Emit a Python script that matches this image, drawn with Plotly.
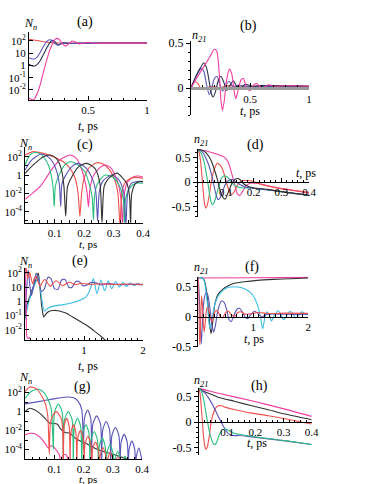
import plotly.graph_objects as go

W, H = 374, 484

PINK = '#f03ca0'
RED = '#f0504b'
BLUE = '#5a55b9'
NAVY = '#283250'
BLACK = '#323232'
GREEN = '#28be7d'
CYAN = '#3cbee6'

# ---- (a) N_n, t = 0..1 ps
a_t_red = [0, 0.037, 0.093, 0.178, 0.32, 0.6, 1.0]
a_red = [135, 120, 100, 74, 66, 66, 66]
a_t_navy = [0, 0.023, 0.045, 0.065, 0.093, 0.122, 0.15, 0.178, 0.2, 0.221, 0.241, 0.263, 0.292, 0.334, 0.405, 0.603, 1]
a_navy = [1.27, 0.93, 0.89, 1.12, 2.3, 7.8, 26, 78, 112, 83, 48, 55, 69, 62, 66, 66, 66]
a_t_blue = [0, 0.023, 0.045, 0.065, 0.093, 0.122, 0.15, 0.173, 0.193, 0.221, 0.249, 0.278, 0.32, 0.377, 0.462, 0.603, 1]
a_blue = [4.3, 3.5, 3.4, 4.3, 10.7, 35, 89, 126, 112, 58, 46, 62, 69, 62, 66, 66, 66]
a_t_pink = [0, 0.023, 0.045, 0.065, 0.088, 0.11, 0.133, 0.156, 0.178, 0.201, 0.221, 0.241, 0.263, 0.286,
            0.309, 0.337, 0.365, 0.394, 0.428, 0.462, 0.504, 0.547, 0.603, 1]
a_pink = [0.0022, 0.0016, 0.0018, 0.0041, 0.016, 0.1, 0.69, 4.3, 19.5, 66, 135, 162, 112, 55,
          38, 58, 100, 83, 58, 69, 78, 66, 66, 66]

# ---- (b) n21, t = 0..1 ps
b_t_red = [0, 0.017, 0.034, 0.056, 0.079, 0.105, 0.133, 0.175, 0.232, 0.316, 0.429, 0.6, 1.0]
b_red = [0, 0.05, 0.07, 0.055, 0.004, -0.02, 0.0, 0.02, 0.004, 0.026, 0.011, 0.026, 0.02]
b_t_blue = [0, 0.034, 0.068, 0.09, 0.11, 0.133, 0.155, 0.175, 0.198, 0.22, 0.246, 0.268, 0.294, 0.322,
            0.359, 0.401, 0.458, 1.0]
b_blue = [0, 0.105, 0.19, 0.218, 0.18, 0.03, -0.075, -0.008, 0.105, 0.13, 0.03, -0.034, 0.03, 0.075,
          0.01, 0.03, 0.02, 0.02]
b_t_navy = [0, 0.04, 0.076, 0.11, 0.133, 0.161, 0.175, 0.189, 0.209, 0.231, 0.254, 0.282, 0.302, 0.331,
            0.359, 0.387, 0.42, 0.46, 0.52, 0.6, 1.0]
b_navy = [0, 0.124, 0.218, 0.28, 0.218, 0.02, -0.075, -0.1, -0.034, 0.08, 0.13, 0.05, -0.026, 0.03,
          0.08, 0.02, 0.004, 0.04, 0.02, 0.026, 0.02]
b_t_pink = [0, 0.062, 0.119, 0.161, 0.198, 0.218, 0.237, 0.254, 0.266, 0.282, 0.302, 0.325, 0.345, 0.367,
            0.379, 0.395, 0.424, 0.444, 0.472, 0.5, 0.528, 0.556, 0.6, 0.655, 0.71, 0.8, 1.0]
b_pink = [0, 0.14, 0.26, 0.35, 0.43, 0.41, 0.2, -0.14, -0.25, -0.14, 0.09, 0.21, 0.16, -0.05,
          -0.12, -0.05, 0.09, 0.105, 0.0, -0.03, 0.03, 0.05, 0.0, 0.035, 0.02, 0.025, 0.02]

# ---- (c) N_n, t = 0..0.4 ps
c_t_red = [0, 0.028, 0.062, 0.096, 0.13, 0.153, 0.17, 0.18, 0.186, 0.192, 0.2, 0.215, 0.243, 0.27,
           0.29, 0.305, 0.315, 0.322, 0.328, 0.338, 0.355, 0.375, 0.4]
c_red = [151, 355, 229, 100, 28, 5.4, 0.44, 0.01, 3.2e-5, 0.01, 0.4, 5.0, 22, 12.6,
         2.5, 0.25, 0.01, 3.2e-6, 0.01, 0.126, 0.4, 0.56, 0.45]
c_t_pink = [0, 0.025, 0.05, 0.07, 0.095, 0.12, 0.153, 0.175, 0.19, 0.202, 0.21, 0.215, 0.22, 0.23,
            0.25, 0.271, 0.29, 0.305, 0.318, 0.326, 0.33, 0.335, 0.345, 0.367, 0.385, 0.4]
c_pink = [2.2e-3, 0.01, 0.05, 0.4, 6.3, 50, 151, 63, 6.3, 0.32, 0.016, 3.5e-4, 0.025, 0.63,
          5.0, 12.6, 6.3, 1.0, 0.063, 1.6e-3, 3.2e-6, 3.2e-3, 0.126, 0.63, 0.79, 0.56]
c_t_green = [0, 0.017, 0.034, 0.056, 0.079, 0.09, 0.095, 0.099, 0.103, 0.113, 0.135, 0.153, 0.175, 0.203,
             0.22, 0.228, 0.232, 0.236, 0.245, 0.271, 0.3, 0.322, 0.333, 0.337, 0.341, 0.355, 0.375, 0.4]
c_green = [12.6, 158, 282, 158, 12.6, 0.63, 0.05, 3.5e-4, 0.063, 0.63, 12.6, 28, 15.8, 2.3,
           0.054, 3.2e-3, 1.3e-5, 6.3e-3, 0.1, 1.0, 0.5, 0.05, 2.5e-3, 3.2e-6, 2.5e-3, 0.04, 0.126, 0.126]
c_t_blue = [0, 0.023, 0.056, 0.085, 0.102, 0.113, 0.117, 0.121, 0.125, 0.135, 0.158, 0.181, 0.208, 0.23,
            0.24, 0.246, 0.252, 0.265, 0.294, 0.32, 0.335, 0.342, 0.348, 0.36, 0.38, 0.4]
c_blue = [3.5, 44, 200, 63, 7.9, 0.5, 0.063, 3.5e-4, 0.1, 0.63, 7.9, 18.6, 5.4, 0.28,
          0.016, 1e-5, 0.016, 0.25, 1.0, 0.25, 0.01, 3.2e-6, 0.01, 0.126, 0.2, 0.18]
c_t_black = [0, 0.028, 0.062, 0.085, 0.107, 0.124, 0.132, 0.138, 0.144, 0.153, 0.181, 0.209, 0.237,
             0.254, 0.261, 0.268, 0.28, 0.311, 0.345, 0.354, 0.358, 0.362, 0.375, 0.39, 0.4]
c_black = [1.5, 12.6, 100, 151, 63, 3.5, 0.054, 3.2e-5, 0.05, 0.28, 7.9, 18.6, 5.4,
           0.126, 6.3e-6, 0.05, 0.32, 1.6, 0.126, 6.3e-3, 3.2e-6, 0.01, 0.126, 0.2, 0.2]

# ---- (d) n21, t = 0..0.4 ps
d_t_pink = [0, 0.036, 0.072, 0.096, 0.108, 0.12, 0.133, 0.142, 0.151, 0.163, 0.174, 0.193, 0.217, 0.265,
            0.313, 0.361, 0.4]
d_pink = [0.66, 0.62, 0.56, 0.5, 0.41, 0.205, -0.07, -0.24, -0.27, -0.17, -0.07, -0.02, -0.03, -0.09,
          -0.14, -0.185, -0.226]
d_t_red = [0, 0.005, 0.01, 0.0145, 0.019, 0.024, 0.028, 0.033, 0.039, 0.046, 0.054, 0.063, 0.069, 0.076,
           0.084, 0.094, 0.102, 0.111, 0.118, 0.123, 0.13, 0.139, 0.148, 0.157, 0.169, 0.181, 0.199, 0.217,
           0.265, 0.313, 0.361, 0.4]
d_red = [0.66, 0.58, 0.38, 0.1, -0.2, -0.45, -0.53, -0.48, -0.31, -0.07, 0.17, 0.32, 0.38, 0.36,
         0.31, 0.17, 0.0, -0.16, -0.24, -0.25, -0.2, -0.1, -0.02, 0.02, 0.03, 0.03, 0.01, -0.03,
         -0.1, -0.15, -0.185, -0.21]
d_t_green = [0, 0.012, 0.022, 0.03, 0.039, 0.046, 0.051, 0.057, 0.066, 0.076, 0.084, 0.092, 0.099, 0.108,
             0.12, 0.139, 0.163, 0.193, 0.253, 0.313, 0.4]
d_green = [0.66, 0.58, 0.41, 0.17, -0.14, -0.38, -0.46, -0.43, -0.27, -0.07, 0.07, 0.12, 0.12, 0.09,
           0.0, -0.09, -0.12, -0.12, -0.16, -0.205, -0.27]
d_t_blue = [0, 0.014, 0.0265, 0.039, 0.051, 0.06, 0.067, 0.072, 0.08, 0.09, 0.1, 0.108, 0.117, 0.123,
            0.133, 0.145, 0.169, 0.217, 0.313, 0.4]
d_blue = [0.66, 0.62, 0.51, 0.34, 0.1, -0.14, -0.29, -0.36, -0.32, -0.17, -0.03, 0.02, 0.05, 0.05,
          0.014, -0.03, -0.1, -0.14, -0.205, -0.27]
d_t_black = [0, 0.018, 0.0325, 0.046, 0.058, 0.069, 0.078, 0.088, 0.094, 0.099, 0.106, 0.114, 0.123,
             0.133, 0.142, 0.151, 0.163, 0.181, 0.205, 0.253, 0.313, 0.4]
d_black = [0.66, 0.64, 0.57, 0.45, 0.27, 0.07, -0.14, -0.29, -0.34, -0.34, -0.25, -0.14, -0.02,
           0.05, 0.07, 0.05, -0.03, -0.09, -0.12, -0.15, -0.205, -0.27]

# ---- (e) N_n, t = 0..2 ps
e_t_red = [0, 0.015, 0.03, 0.045, 0.06, 0.08, 0.1, 0.13, 0.16, 0.19, 0.22, 0.26, 0.3, 0.34, 0.38, 0.43,
           0.48, 0.53, 0.58, 0.64, 0.7, 0.76, 0.85, 0.95, 1.1, 1.3, 1.5, 1.7, 2.0]
e_red = [158, 251, 126, 40, 56, 112, 50, 17.8, 45, 56, 25, 11.2, 25, 35, 20, 11.2,
         20, 28, 20, 12.6, 17.8, 22, 15, 19, 15.8, 17.4, 15.5, 16.6, 15.8]
e_t_blue = [0, 0.03, 0.055, 0.085, 0.11, 0.15, 0.19, 0.23, 0.28, 0.33, 0.39, 0.44, 0.5, 0.56, 0.62,
            0.68, 0.74, 0.8, 0.86, 0.92, 0.98, 1.05, 1.12, 1.2, 1.3, 1.4, 1.55, 1.7, 1.85, 2.0]
e_blue = [0.1, 10, 158, 10, 2.5, 15.8, 100, 32, 5.0, 7.9, 50, 40, 7.9, 7.1, 32,
          35, 10, 10, 25, 25, 12.6, 14.1, 22, 20, 14.1, 17.8, 15.8, 14.8, 15.8, 15.1]
e_t_black = [0, 0.03, 0.07, 0.11, 0.15, 0.19, 0.226, 0.25, 0.28, 0.3, 0.32, 0.36, 0.42, 0.48, 0.56,
             0.64, 0.71, 0.8, 0.93, 1.05, 1.16, 1.27, 1.38, 1.45]
e_black = [0.1, 0.5, 1.6, 5.0, 14.1, 40, 100, 12.6, 0.63, 0.16, 0.079, 0.14, 0.21, 0.23, 0.22,
           0.18, 0.14, 0.083, 0.04, 0.02, 9.1e-3, 4e-3, 1.6e-3, 1e-3]
e_t_cyan = [0, 0.06, 0.14, 0.2, 0.226, 0.26, 0.33, 0.4, 0.5, 0.65, 0.8, 0.93, 1.03, 1.08, 1.12, 1.16,
            1.22, 1.285, 1.35, 1.41, 1.47, 1.535, 1.6, 1.66, 1.72, 1.785, 1.85, 1.91, 1.96, 2.0]
e_cyan = [0.05, 0.79, 7.9, 32, 56, 7.9, 0.2, 0.35, 0.48, 0.59, 0.81, 1.2, 2.0, 4.0, 11.2, 40,
          3.5, 32, 5.6, 28, 7.9, 25, 10, 22, 11.2, 20, 12.6, 18.6, 15.1, 16.6]
e_t_pink = [0, 0.012, 0.022, 0.032, 0.05, 0.07, 0.09, 0.11]
e_pink = [200, 10, 0.1, 3.2e-3, 2.5e-3, 2.8e-3, 2.2e-3, 6.3e-4]

# ---- (f) n21, t = 0..2 ps
f_t_pink = [0, 1.0, 2.0]
f_pink = [0.645, 0.65, 0.655]
f_t_black = [0, 0.072, 0.107, 0.137, 0.167, 0.191, 0.215, 0.233, 0.257, 0.299, 0.358, 0.448, 0.537,
             0.657, 0.836, 1.075, 1.373, 1.672, 2.0]
f_black = [0.656, 0.644, 0.611, 0.5, 0.306, 0.028, -0.194, -0.278, -0.139, 0.2, 0.37, 0.46, 0.51,
           0.556, 0.583, 0.606, 0.622, 0.633, 0.644]
f_t_cyan = [0, 0.072, 0.107, 0.137, 0.167, 0.191, 0.215, 0.25, 0.3, 0.36, 0.45, 0.55, 0.65, 0.75, 0.85,
            0.95, 1.03, 1.09, 1.13, 1.17, 1.21, 1.25, 1.29, 1.33, 1.39, 1.45, 1.5, 1.55, 1.61, 1.67,
            1.72, 1.77, 1.83, 1.88, 1.94, 2.0]
f_cyan = [0.656, 0.644, 0.6, 0.444, 0.194, -0.083, -0.2, -0.03, 0.2, 0.34, 0.44, 0.49, 0.5, 0.49, 0.46,
          0.4, 0.3, 0.15, 0.0, -0.2, -0.02, 0.08, 0.03, -0.07, 0.03, 0.1, 0.04, -0.05, 0.02, 0.09,
          0.05, -0.02, 0.03, 0.08, 0.05, 0.03]
f_t_blue = [0, 0.02, 0.04, 0.055, 0.075, 0.1, 0.14, 0.17, 0.21, 0.25, 0.28, 0.31, 0.36, 0.42, 0.47, 0.52,
            0.56, 0.6, 0.64, 0.7, 0.75, 0.8, 0.86, 0.9, 0.95, 1.02, 1.08, 1.15, 1.25, 1.4, 1.6, 2.0]
f_blue = [0.656, 0.3, -0.2, -0.45, -0.1, 0.25, 0.4, 0.37, 0.15, -0.15, -0.26, -0.15, 0.12, 0.26, 0.24, 0.1,
          -0.05, -0.08, 0.0, 0.12, 0.14, 0.08, -0.02, -0.03, 0.03, 0.09, 0.06, 0.0, 0.04, 0.045, 0.04, 0.04]
f_t_red = [0, 0.01, 0.02, 0.03, 0.045, 0.06, 0.075, 0.095, 0.11, 0.13, 0.16, 0.19, 0.22, 0.25, 0.28, 0.32,
           0.36, 0.4, 0.44, 0.5, 0.55, 0.6, 0.66, 0.72, 0.78, 0.85, 0.95, 1.1, 1.3, 1.6, 2.0]
f_red = [0.656, 0.2, -0.3, -0.47, 0.0, 0.35, 0.2, -0.15, -0.25, -0.05, 0.15, 0.12, -0.03, -0.08, 0.02, 0.1,
         0.08, 0.0, -0.02, 0.07, 0.09, 0.03, 0.01, 0.07, 0.08, 0.04, 0.05, 0.07, 0.05, 0.06, 0.055]

# ---- (g) N_n, t = 0..0.4 ps
g_t_red = [0, 0.017, 0.04, 0.058, 0.07, 0.078, 0.083,
           0.089, 0.107, 0.125, 0.131, 0.134, 0.1425, 0.151, 0.154,
           0.157, 0.1655, 0.174, 0.177, 0.18, 0.1895, 0.199, 0.202,
           0.205, 0.215, 0.225, 0.228, 0.231, 0.241, 0.251, 0.254,
           0.257, 0.2665, 0.276, 0.279, 0.282, 0.2915, 0.301, 0.304, 0.317, 0.33]
g_red = [126, 398, 251, 40, 6.3, 0.32, 3.2e-5,
         0.14, 1.0, 0.14, 3.2e-6, 0.028, 0.2, 0.028, 3.2e-6,
         5.6e-3, 0.04, 5.6e-3, 3.2e-6, 1.4e-3, 0.01, 1.4e-3, 3.2e-6,
         3.5e-4, 2.5e-3, 3.5e-4, 3.2e-6, 8.9e-5, 6.3e-4, 8.9e-5, 3.2e-6,
         2.2e-5, 1.6e-4, 2.2e-5, 3.2e-6, 7.9e-6, 5e-5, 7.9e-6, 3.2e-6, 1.6e-5, 3.2e-6]
g_t_green = [0, 0.02, 0.046, 0.065, 0.08, 0.09, 0.097,
             0.101, 0.114, 0.127, 0.131, 0.135, 0.148, 0.161, 0.165,
             0.169, 0.1795, 0.19, 0.194, 0.1975, 0.208, 0.2185, 0.222,
             0.2255, 0.2365, 0.2475, 0.251, 0.254, 0.264, 0.274, 0.277,
             0.2805, 0.2905, 0.3005, 0.304, 0.307, 0.317, 0.327, 0.33, 0.3415, 0.353]
g_green = [25, 126, 224, 100, 15.8, 1.6, 1e-4,
           0.89, 6.3, 0.89, 3.2e-6, 0.14, 1.0, 0.14, 3.2e-6,
           0.028, 0.2, 0.028, 3.2e-6, 5.6e-3, 0.04, 5.6e-3, 3.2e-6,
           1.1e-3, 7.9e-3, 1.1e-3, 3.2e-6, 2.2e-4, 1.6e-3, 2.2e-4, 3.2e-6,
           4.5e-5, 3.2e-4, 4.5e-5, 3.2e-6, 8.9e-6, 6.3e-5, 8.9e-6, 3.2e-6, 2e-5, 3.2e-6]
g_t_blue = [0, 0.051, 0.097, 0.142, 0.165, 0.182, 0.194, 0.2,
            0.2035, 0.214, 0.2245, 0.228, 0.232, 0.245, 0.258, 0.262,
            0.266, 0.2775, 0.289, 0.293, 0.297, 0.309, 0.321, 0.325,
            0.3285, 0.339, 0.3495, 0.353, 0.356, 0.3655, 0.375, 0.378,
            0.381, 0.389, 0.397, 0.4]
g_blue = [6.5, 12, 22, 35, 30, 12, 1.6, 1e-4,
          0.21, 1.5, 0.21, 3.2e-6, 0.05, 0.35, 0.05, 3.2e-6,
          0.0126, 0.089, 0.0126, 3.2e-6, 3e-3, 0.021, 3e-3, 3.2e-6,
          5.6e-4, 4e-3, 5.6e-4, 3.2e-6, 1.1e-4, 7.9e-4, 1.1e-4, 3.2e-6,
          2e-5, 1.4e-4, 2e-5, 3.2e-6]
g_t_black = [0, 0.017, 0.034, 0.051, 0.068, 0.085, 0.097, 0.111, 0.122, 0.137, 0.154, 0.171, 0.194,
             0.217, 0.239, 0.268, 0.296, 0.325, 0.348, 0.36]
g_black = [1.0, 2.24, 1.5, 0.66, 0.2, 0.059, 0.059, 0.047, 0.014, 6.3e-3, 5.2e-3, 1.6e-3, 6.9e-4,
           3.2e-4, 1.4e-4, 6.3e-5, 3.5e-5, 1.8e-5, 1e-5, 6.3e-6]
g_t_pink = [0, 0.017, 0.034, 0.051, 0.068, 0.08, 0.088, 0.097, 0.108, 0.118, 0.122, 0.128, 0.136, 0.144, 0.148]
g_pink = [3.5e-3, 5.2e-3, 4.5e-3, 2e-3, 4.7e-4, 1.4e-4, 2.5e-4, 2.1e-4, 7.9e-5, 2.5e-5, 3.2e-6, 2e-5,
          3.2e-5, 2e-5, 3.2e-6]

# ---- (h) n21, t = 0..0.4 ps
h_t_pink = [0, 0.069, 0.187, 0.305, 0.4]
h_pink = [0.66, 0.565, 0.416, 0.253, 0.11]
h_t_black = [0, 0.015, 0.033, 0.051, 0.069, 0.128, 0.187, 0.246, 0.305, 0.4]
h_black = [0.66, 0.61, 0.565, 0.526, 0.487, 0.403, 0.318, 0.24, 0.156, 0.045]
h_t_red = [0, 0.0035, 0.007, 0.012, 0.0166, 0.0213, 0.0249, 0.0296, 0.0355, 0.045, 0.0568, 0.0686,
           0.0805, 0.0923, 0.128, 0.187, 0.246, 0.305, 0.4]
h_red = [0.66, 0.565, 0.37, 0.013, -0.31, -0.487, -0.54, -0.487, -0.31, 0.045, 0.253, 0.318,
         0.318, 0.292, 0.24, 0.175, 0.123, 0.065, -0.04]
h_t_green = [0, 0.0071, 0.0154, 0.0237, 0.0331, 0.0426, 0.0509, 0.0568, 0.0627, 0.071, 0.0805, 0.0899,
             0.0982, 0.11, 0.128, 0.187, 0.246, 0.305, 0.4]
h_green = [0.66, 0.617, 0.468, 0.208, -0.084, -0.312, -0.422, -0.442, -0.396, -0.266, -0.162, -0.136,
           -0.149, -0.182, -0.227, -0.279, -0.325, -0.364, -0.442]
h_t_blue = [0, 0.0213, 0.045, 0.0686, 0.0864, 0.104, 0.122, 0.14, 0.187, 0.246, 0.305, 0.4]
h_blue = [0.66, 0.565, 0.37, 0.11, -0.084, -0.227, -0.266, -0.266, -0.292, -0.331, -0.37, -0.442]

LOG_VALS = [1e-4, 1e-2, 1, 100]
LOG_TEXT = ['10<sup>-4</sup>', '10<sup>-2</sup>', '1', '10<sup>2</sup>']
LOG_VALS_A = [0.01, 0.1, 1, 10, 100]
LOG_TEXT_A = ['10<sup>-2</sup>', '10<sup>-1</sup>', '1', '10', '10<sup>2</sup>']

SERIF = 'Liberation Serif, Times New Roman, Times, serif'
FONT = dict(family=SERIF, size=12, color='black')
TICKFONT = dict(family=SERIF, size=11, color='black')

fig = go.Figure()


def add(k, t, v, color):
    fig.add_trace(go.Scatter(x=t, y=v, xaxis='x' + k, yaxis='y' + k, mode='lines',
                             line=dict(color=color, width=1.1, shape='spline', smoothing=0.7),
                             showlegend=False, hoverinfo='skip'))


def log_panel(k, box, xmax, xticks, xtext, xminor, yr, yvals, ytext, yminor):
    left, right, top, bottom = box
    fig.layout['xaxis' + k] = dict(
        domain=[left / W, right / W], range=[0, xmax], anchor='y' + k, automargin=False,
        tickmode='array', tickvals=xticks, ticktext=xtext, ticks='inside', ticklen=4,
        minor=dict(tickmode='linear', tick0=0, dtick=xminor, ticks='inside', ticklen=2.5, tickcolor='black'),
        showline=True, linecolor='black', linewidth=1, showgrid=False, zeroline=False,
        tickfont=TICKFONT, tickcolor='black')
    fig.layout['yaxis' + k] = dict(
        domain=[1 - bottom / H, 1 - top / H], type='log', range=yr, anchor='x' + k, automargin=False,
        tickmode='array', tickvals=yvals, ticktext=ytext, ticks='inside', ticklen=4,
        minor=dict(tickmode='array', tickvals=yminor, ticks='inside', ticklen=2.5, tickcolor='black'),
        showline=True, linecolor='black', linewidth=1, showgrid=False, zeroline=False,
        tickfont=TICKFONT, tickcolor='black')


def n_panel(k, box, zero_px, xmax, xticks, xtext, xminor, yr, yvals, ytext, axcolor='black', axw=1):
    left, right, top, bottom = box
    fig.layout['xaxis' + k] = dict(
        domain=[left / W, right / W], range=[0, xmax], anchor='free', position=1 - zero_px / H,
        automargin=False,
        tickmode='array', tickvals=xticks, ticktext=xtext, ticks='inside', ticklen=4,
        minor=dict(tickmode='linear', tick0=0, dtick=xminor, ticks='inside', ticklen=2.5, tickcolor='black'),
        showline=True, linecolor=axcolor, linewidth=axw, showgrid=False, zeroline=False,
        tickfont=TICKFONT, tickcolor='black')
    fig.layout['yaxis' + k] = dict(
        domain=[1 - bottom / H, 1 - top / H], range=yr, anchor='x' + k, automargin=False,
        tickmode='array', tickvals=yvals, ticktext=ytext, ticks='outside', ticklen=4,
        minor=dict(tickmode='linear', tick0=0, dtick=0.1, ticks='outside', ticklen=2.5, tickcolor='black'),
        showline=True, linecolor='black', linewidth=1, showgrid=False, zeroline=False,
        tickfont=FONT, tickcolor='black')


# traces
add('', a_t_red, a_red, RED)
add('', a_t_navy, a_navy, NAVY)
add('', a_t_blue, a_blue, BLUE)
add('', a_t_pink, a_pink, PINK)

add('2', b_t_red, b_red, RED)
add('2', b_t_blue, b_blue, BLUE)
add('2', b_t_navy, b_navy, NAVY)
add('2', b_t_pink, b_pink, PINK)

add('3', c_t_pink, c_pink, PINK)
add('3', c_t_red, c_red, RED)
add('3', c_t_green, c_green, GREEN)
add('3', c_t_blue, c_blue, BLUE)
add('3', c_t_black, c_black, BLACK)

add('4', d_t_pink, d_pink, PINK)
add('4', d_t_red, d_red, RED)
add('4', d_t_green, d_green, GREEN)
add('4', d_t_blue, d_blue, BLUE)
add('4', d_t_black, d_black, BLACK)

add('5', e_t_black, e_black, BLACK)
add('5', e_t_cyan, e_cyan, CYAN)
add('5', e_t_blue, e_blue, BLUE)
add('5', e_t_red, e_red, RED)
add('5', e_t_pink, e_pink, PINK)

add('6', f_t_pink, f_pink, PINK)
add('6', f_t_black, f_black, BLACK)
add('6', f_t_cyan, f_cyan, CYAN)
add('6', f_t_blue, f_blue, BLUE)
add('6', f_t_red, f_red, RED)

add('7', g_t_pink, g_pink, PINK)
add('7', g_t_black, g_black, BLACK)
add('7', g_t_blue, g_blue, BLUE)
add('7', g_t_green, g_green, GREEN)
add('7', g_t_red, g_red, RED)

add('8', h_t_pink, h_pink, PINK)
add('8', h_t_black, h_black, BLACK)
add('8', h_t_red, h_red, RED)
add('8', h_t_blue, h_blue, BLUE)
add('8', h_t_green, h_green, GREEN)

# axes
log_panel('', (29, 147, 32, 100), 1, [0.5, 1], ['0.5', '1'], 0.1, [-2.82, 2.73],
          LOG_VALS_A, LOG_TEXT_A, [])
n_panel('2', (191, 309, 41.2, 115), 88, 1, [0.5, 1], ['0.5', '1'], 0.1, [-0.3, 0.52],
        [0, 0.5], ['0', '0.5'], axcolor='#9a9a9a', axw=2.5)
log_panel('3', (25, 143, 146.7, 222.7), 0.4, [0.1, 0.2, 0.3, 0.4], ['0.1', '0.2', '0.3', '0.4'], 0.025,
          [-5.2, 3.09], LOG_VALS, LOG_TEXT, [1e-5, 1e-3, 0.1, 10, 1000])
n_panel('4', (198, 309, 149, 217), 182, 0.4, [0.1, 0.2, 0.3, 0.4], ['0.1', '0.2', '0.3', '0.4'], 0.02,
        [-0.71, 0.67], [-0.5, 0, 0.5], ['-0.5', '0', '0.5'])
log_panel('5', (25, 143, 268, 340), 2, [1, 2], ['1', '2'], 0.1, [-2.72, 2.35],
          LOG_VALS_A, LOG_TEXT_A, [])
n_panel('6', (198.3, 308.3, 276.5, 346.7), 316.7, 2, [1, 2], ['1', '2'], 0.1,
        [-0.5, 0.67], [-0.5, 0, 0.5], ['-0.5', '0', '0.5'])
log_panel('7', (25, 142, 386, 459), 0.4, [0.1, 0.2, 0.3, 0.4], ['0.1', '0.2', '0.3', '0.4'], 0.025,
          [-5.0, 2.7], LOG_VALS, LOG_TEXT, [1e-5, 1e-3, 0.1, 10])
n_panel('8', (199, 311.7, 388, 455), 422, 0.4, [0.1, 0.2, 0.3, 0.4], ['0.1', '0.2', '0.3', '0.4'], 0.02,
        [-0.647, 0.667], [-0.5, 0, 0.5], ['-0.5', '0', '0.5'])

# labels: (text, x px, y px, size)
labels = [
    ('(a)', 85, 22, 14), ('(b)', 248, 26, 14), ('(c)', 85, 145, 14), ('(d)', 256, 145, 14),
    ('(e)', 80, 261, 14), ('(f)', 252, 267, 14), ('(g)', 82, 387, 14), ('(h)', 259, 386, 14),
    ('<i>N<sub>n</sub></i>', 30, 24, 12), ('<i>N<sub>n</sub></i>', 25, 144, 12),
    ('<i>N<sub>n</sub></i>', 25, 262, 12), ('<i>N<sub>n</sub></i>', 25, 378, 12),
    ('<i>n<sub>21</sub></i>', 199, 36, 12), ('<i>n<sub>21</sub></i>', 201, 140, 12),
    ('<i>n<sub>21</sub></i>', 201, 268, 12), ('<i>n<sub>21</sub></i>', 201, 381, 12),
    ('<i>t</i>, ps', 88, 126, 12), ('<i>t</i>, ps', 250, 111, 12), ('<i>t</i>, ps', 88, 243.5, 11),
    ('<i>t</i>, ps', 306, 173, 12), ('<i>t</i>, ps', 88, 366, 12), ('<i>t</i>, ps', 254, 339, 12),
    ('<i>t</i>, ps', 88, 478.5, 11), ('<i>t</i>, ps', 257, 443, 12),
]
for text, x, y, size in labels:
    fig.add_annotation(text=text, x=x / W, y=1 - y / H, xref='paper', yref='paper',
                       xanchor='center', yanchor='middle', showarrow=False,
                       font=dict(family=SERIF, size=size, color='black'))

fig.update_layout(width=W, height=H, margin=dict(l=0, r=0, t=0, b=0, autoexpand=False),
                  paper_bgcolor='white', plot_bgcolor='white', showlegend=False, font=FONT)

# the page's default body margin would shift the whole figure by 8 px
fig.write_html('out.html', config={'displayModeBar': False},
               post_script="document.body.style.margin='0';document.body.style.overflow='hidden';")
